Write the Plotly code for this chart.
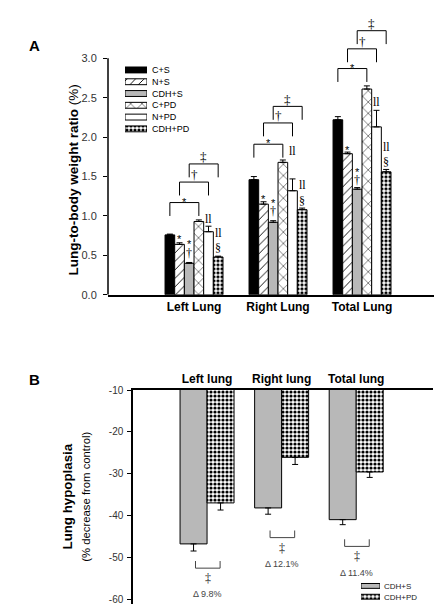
import plotly.graph_objects as go

W, H = 442, 607

# ---------------- data: panel A ----------------
groups_A = ["Left Lung", "Right Lung", "Total Lung"]
series_A = ["C+S", "N+S", "CDH+S", "C+PD", "N+PD", "CDH+PD"]
ratio_cs = [0.76, 1.46, 2.22]
ratio_ns = [0.64, 1.15, 1.79]
ratio_cdhs = [0.40, 0.92, 1.34]
ratio_cpd = [0.93, 1.68, 2.61]
ratio_npd = [0.80, 1.32, 2.13]
ratio_cdhpd = [0.48, 1.08, 1.56]
err_cs = [0.01, 0.04, 0.04]
err_ns = [0.02, 0.03, 0.02]
err_cdhs = [0.01, 0.02, 0.02]
err_cpd = [0.02, 0.03, 0.04]
err_npd = [0.07, 0.15, 0.21]
err_cdhpd = [0.01, 0.02, 0.03]
yticks_A = [0.0, 0.5, 1.0, 1.5, 2.0, 2.5, 3.0]

# ---------------- data: panel B ----------------
groups_B = ["Left lung", "Right lung", "Total lung"]
series_B = ["CDH+S", "CDH+PD"]
hyp_cdhs = [-46.8, -38.2, -41.0]
hyp_cdhpd = [-37.0, -26.1, -29.6]
err_hyp_cdhs = [1.7, 1.5, 1.2]
err_hyp_cdhpd = [1.7, 1.7, 1.3]
delta_labels = ["\u0394 9.8%", "\u0394 12.1%", "\u0394 11.4%"]
yticks_B = [-10, -20, -30, -40, -50, -60]

values_A = [ratio_cs, ratio_ns, ratio_cdhs, ratio_cpd, ratio_npd, ratio_cdhpd]
errors_A = [err_cs, err_ns, err_cdhs, err_cpd, err_npd, err_cdhpd]
values_B = [hyp_cdhs, hyp_cdhpd]
errors_B = [err_hyp_cdhs, err_hyp_cdhpd]

# ---------------- styles ----------------
GREY = "#b8b8b8"
def pat(shape="", size=6, sol=0.2):
    if not shape:
        return dict(shape="")
    return dict(shape=shape, fgcolor="black", bgcolor="white", size=size,
                solidity=sol, fillmode="replace")

fill_A = ["black", "white", GREY, "white", "white", "white"]
pattern_A = [pat(), pat("/", 6, 0.15), pat(), pat("x", 8, 0.12), pat(), pat(".", 4, 0.5)]
fill_B = [GREY, "white"]
pattern_B = [pat(), pat(".", 4, 0.5)]

SANS = "Liberation Sans, Arial, sans-serif"
SERIF = "Liberation Serif, Times New Roman, serif"

def px_x(p):
    return p / W

def px_y(p):
    return 1 - p / H

fig = go.Figure()

# ---------------- panel A bars ----------------
bw_A = 0.115
nA = len(series_A)
gx_A = list(range(len(groups_A)))
for i, name in enumerate(series_A):
    fig.add_trace(go.Bar(
        x=gx_A, y=values_A[i], name=name, showlegend=False,
        offset=(i - nA / 2) * bw_A, width=bw_A,
        marker=dict(color=fill_A[i], pattern=pattern_A[i],
                    line=dict(color="black", width=1)),
        error_y=dict(type="data", symmetric=False, array=errors_A[i],
                     arrayminus=[0] * len(groups_A), width=3, thickness=1,
                     color="black"),
        xaxis="x", yaxis="y",
    ))

def barc(g, i):
    return g + (i - nA / 2 + 0.5) * bw_A

shapes = []
annotations = []

# y axis line for A (only 0..3.0)
shapes.append(dict(type="line", xref="x domain", yref="y", x0=0, x1=0,
                   y0=yticks_A[0], y1=yticks_A[-1],
                   line=dict(color="black", width=1.5)))

# comparison brackets panel A
bracket_syms = ["*", "\u2020", "\u2021"]
bracket_tops = [[1.17, 1.91, 2.87], [1.43, 2.18, 3.12], [1.66, 2.39, 3.35]]
drop = 0.17
for k, sym in enumerate(bracket_syms):
    for g in gx_A:
        x0, x1 = barc(g, k), barc(g, k + 3)
        top = bracket_tops[k][g]
        for (a, b, c, d) in [(x0, top - drop, x0, top), (x0, top, x1, top),
                             (x1, top, x1, top - drop)]:
            shapes.append(dict(type="line", xref="x", yref="y", x0=a, y0=b,
                               x1=c, y1=d, line=dict(color="black", width=1)))
        if sym == "*":
            annotations.append(dict(x=(x0 + x1) / 2, y=top + 0.01, xref="x", yref="y",
                                    text="*", showarrow=False, xanchor="center",
                                    yanchor="middle",
                                    font=dict(family=SANS, size=11, color="black")))
        else:
            annotations.append(dict(x=(x0 + x1) / 2, y=top + 0.09, xref="x", yref="y",
                                    text=sym, showarrow=False, xanchor="center",
                                    yanchor="middle",
                                    font=dict(family=SERIF, size=13, color="black")))

# significance symbols beside bars (bar index, symbol, y per group)
bar_syms = [
    (1, "*", [0.71, 1.21, 1.84]),
    (2, "*", [0.64, 1.16, 1.56]),
    (2, "\u2020", [0.53, 1.06, 1.46]),
    (4, "ll", [0.96, 1.83, 2.45]),
    (5, "ll", [0.78, 1.39, 1.88]),
    (5, "\u00a7", [0.59, 1.19, 1.69]),
]
for (bi, sym, ys) in bar_syms:
    for g in gx_A:
        fam = SANS if sym == "*" else SERIF
        annotations.append(dict(x=barc(g, bi), y=ys[g], xref="x", yref="y",
                                text=sym, showarrow=False, xanchor="center",
                                yanchor="middle",
                                font=dict(family=fam, size=12 if sym != "*" else 11,
                                          color="black")))

# ---------------- panel B bars ----------------
bw_B = 0.362
nB = len(series_B)
gx_B = list(range(len(groups_B)))
for i, name in enumerate(series_B):
    fig.add_trace(go.Bar(
        x=gx_B, y=values_B[i], name=name, showlegend=False,
        offset=(i - nB / 2) * bw_B, width=bw_B,
        marker=dict(color=fill_B[i], pattern=pattern_B[i],
                    line=dict(color="black", width=1)),
        error_y=dict(type="data", symmetric=False, array=[0] * len(groups_B),
                     arrayminus=errors_B[i], width=3, thickness=1, color="black"),
        xaxis="x2", yaxis="y2",
    ))

# brackets + delta labels panel B
bracket_tops_B = [-50.9, -43.6, -45.7]
dropB = 1.7
for g in gx_B:
    x0, x1 = g - 0.155, g + 0.175
    top = bracket_tops_B[g]
    for (a, b, c, d) in [(x0, top, x0, top - dropB), (x0, top - dropB, x1, top - dropB),
                         (x1, top - dropB, x1, top)]:
        shapes.append(dict(type="line", xref="x2", yref="y2", x0=a, y0=b, x1=c, y1=d,
                           line=dict(color="#444", width=1)))
    annotations.append(dict(x=g + 0.01, y=top - dropB - 2.4, xref="x2", yref="y2",
                            text="\u2021", showarrow=False, xanchor="center",
                            yanchor="middle",
                            font=dict(family=SERIF, size=12, color="#222")))
    annotations.append(dict(x=g + 0.01, y=top - dropB - 6.3, xref="x2", yref="y2",
                            text=delta_labels[g], showarrow=False, xanchor="center",
                            yanchor="middle",
                            font=dict(family=SANS, size=9, color="#444")))

# ---------------- legend A (swatch subplot) ----------------
for i, name in enumerate(series_A):
    fig.add_trace(go.Bar(
        y=[name], x=[1], orientation="h", showlegend=False, width=0.5,
        marker=dict(color=fill_A[i], pattern=pattern_A[i],
                    line=dict(color="black", width=1)),
        xaxis="x3", yaxis="y3", hoverinfo="skip",
    ))
# ---------------- legend B (swatch subplot) ----------------
for i, name in enumerate(series_B):
    fig.add_trace(go.Bar(
        y=[name], x=[1], orientation="h", showlegend=False, width=0.45,
        marker=dict(color=fill_B[i], pattern=pattern_B[i],
                    line=dict(color="black", width=1)),
        xaxis="x4", yaxis="y4", hoverinfo="skip",
    ))

# ---------------- titles / panel letters ----------------
annotations += [
    dict(text="<b>A</b>", x=px_x(26), y=px_y(33), xref="paper", yref="paper",
         xanchor="center", yanchor="middle", showarrow=False,
         font=dict(family=SANS, size=15, color="black")),
    dict(text="<b>B</b>", x=px_x(26), y=px_y(373), xref="paper", yref="paper",
         xanchor="center", yanchor="middle", showarrow=False,
         font=dict(family=SANS, size=15, color="black")),
    dict(text="<b>Lung-to-body weight ratio</b> (%)", x=px_x(65), y=1.45,
         xref="paper", yref="y", textangle=-90, showarrow=False,
         xanchor="center", yanchor="middle",
         font=dict(family=SANS, size=13.5, color="black")),
    dict(text="<b>Lung hypoplasia</b><br><span style='font-size:11.3px'>(% decrease from control)</span>",
         x=px_x(68), y=-35.5, xref="paper", yref="y2", textangle=-90, showarrow=False,
         xanchor="center", yanchor="middle",
         font=dict(family=SANS, size=13.3, color="black")),
]

axis_common = dict(showgrid=False, zeroline=False)
fig.update_layout(
    width=W, height=H, margin=dict(l=0, r=0, t=0, b=0),
    paper_bgcolor="white", plot_bgcolor="rgba(0,0,0,0)",
    barmode="overlay", showlegend=False,
    xaxis=dict(domain=[px_x(100), px_x(435)], range=[-1.024, 2.964], anchor="y",
               tickvals=gx_A, ticktext=groups_A, ticks="", showline=True,
               linecolor="black", linewidth=1.5,
               tickfont=dict(family=SANS, size=12, color="black", weight="bold"),
               **axis_common),
    yaxis=dict(domain=[px_y(287), px_y(10)], range=[0, 3.45], anchor="x",
               tickvals=yticks_A, ticktext=[f"{v:.1f}" for v in yticks_A],
               ticks="outside", ticklen=4, tickcolor="black", showline=False,
               ticklabelstandoff=4,
               tickfont=dict(family=SANS, size=11, color="#333"), **axis_common),
    xaxis2=dict(domain=[px_x(125), px_x(425)], range=[-0.993, 3.03], anchor="y2",
                side="top", tickvals=gx_B, ticktext=groups_B, ticks="",
                showline=True, linecolor="black", linewidth=1.5,
                tickfont=dict(family=SANS, size=12, color="black", weight="bold"),
                **axis_common),
    yaxis2=dict(domain=[px_y(602), px_y(384)], range=[-61.2, -10], anchor="x2",
                tickvals=yticks_B, ticktext=[str(v) for v in yticks_B],
                ticks="outside", ticklen=4, tickcolor="black", showline=True,
                linecolor="black", linewidth=1.5, ticklabelstandoff=2,
                tickfont=dict(family=SANS, size=10, color="#333"), **axis_common),
    xaxis3=dict(domain=[px_x(117), px_x(139)], range=[0, 1], anchor="y3",
                visible=False, **axis_common),
    yaxis3=dict(domain=[px_y(124), px_y(52)], anchor="x3", side="right",
                autorange="reversed", ticks="", showline=False,
                ticklabelstandoff=4,
                tickfont=dict(family=SANS, size=9, color="black"), **axis_common),
    xaxis4=dict(domain=[px_x(353), px_x(372)], range=[0, 1], anchor="y4",
                visible=False, **axis_common),
    yaxis4=dict(domain=[px_y(600), px_y(578)], anchor="x4", side="right",
                autorange="reversed", ticks="", showline=False,
                ticklabelstandoff=3,
                tickfont=dict(family=SANS, size=8, color="#222"), **axis_common),
    shapes=shapes, annotations=annotations,
)

fig.write_html("out.html")
